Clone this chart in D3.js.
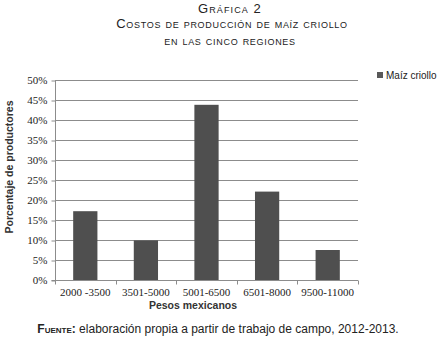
<!DOCTYPE html>
<html><head><meta charset="utf-8">
<script src="https://cdn.jsdelivr.net/npm/d3@7"></script>
<style>body{margin:0;background:#fff}svg{display:block}</style>
</head><body>
<script>
const categories = ["2000 -3500","3501-5000","5001-6500","6501-8000","9500-11000"];
const values = [17.2, 9.9, 43.8, 22.1, 7.5];
const yTicks = [0,5,10,15,20,25,30,35,40,45,50];
const seriesName = "Maíz criollo";

const W = 446, H = 339;
const svg = d3.select("body").append("svg").attr("width", W).attr("height", H);
const m = {left:55, right:358, top:80, bottom:280};

const x = d3.scaleBand().domain(categories).range([m.left, m.right]).paddingInner(0.6).paddingOuter(0.3);
const xb = d3.scaleBand().domain(categories).range([m.left, m.right]);
const y = d3.scaleLinear().domain([0,50]).range([m.bottom, m.top]);

// gridlines
svg.append("g").selectAll("line").data(yTicks.slice(1)).join("line")
  .attr("x1", m.left).attr("x2", m.right)
  .attr("y1", d=>y(d)+0.5).attr("y2", d=>y(d)+0.5)
  .attr("stroke", "#8c8c8c").attr("stroke-width", 1);

// bars
svg.append("g").selectAll("rect").data(values).join("rect")
  .attr("x", (d,i)=>x(categories[i]))
  .attr("width", x.bandwidth())
  .attr("y", d=>y(d)).attr("height", d=>y(0)-y(d))
  .attr("fill", "#4f4f4f");

// y axis
const yAxis = d3.axisLeft(y).tickValues(yTicks).tickFormat(d=>d+"%").tickSize(4).tickPadding(4);
const gy = svg.append("g").attr("transform", `translate(${m.left+0.5},0)`).call(yAxis);
gy.select(".domain").attr("stroke", "#8c8c8c").attr("d", `M-4,${m.bottom+0.5}H0V${m.top}`);
gy.selectAll(".tick line").attr("stroke", "#8c8c8c").attr("transform","translate(0,0.5)");
gy.selectAll(".tick text").attr("font-family","'Liberation Serif', 'Times New Roman', serif").attr("font-size","11px").attr("fill","#222");

// x axis
const gx = svg.append("g").attr("transform", `translate(0,${m.bottom+0.5})`);
gx.append("line").attr("x1", m.left).attr("x2", m.right).attr("stroke","#8c8c8c");
const bounds = categories.map(c=>xb(c)).concat([m.right]);
gx.selectAll("line.tk").data(bounds).join("line").attr("class","tk")
  .attr("x1", d=>Math.round(d)+0.5).attr("x2", d=>Math.round(d)+0.5).attr("y1",0).attr("y2",4)
  .attr("stroke","#8c8c8c");
gx.selectAll("text").data(categories).join("text")
  .attr("x", d=>xb(d)+xb.bandwidth()/2).attr("y", 15)
  .attr("text-anchor","middle")
  .attr("font-family","'Liberation Serif', 'Times New Roman', serif").attr("font-size","11px").attr("fill","#222")
  .text(d=>d);

// axis titles
svg.append("text").attr("transform","translate(13,167) rotate(-90)").attr("text-anchor","middle")
  .attr("font-family","'Liberation Sans', Arial, sans-serif").attr("font-size","10.5px").attr("font-weight","bold").attr("fill","#333")
  .text("Porcentaje de productores");
svg.append("text").attr("x", 193).attr("y", 309).attr("text-anchor","middle")
  .attr("font-family","'Liberation Sans', Arial, sans-serif").attr("font-size","10.5px").attr("font-weight","bold").attr("fill","#333")
  .text("Pesos mexicanos");

// legend
svg.append("rect").attr("x",377).attr("y",72).attr("width",6).attr("height",6).attr("fill","#595959");
svg.append("text").attr("x",386).attr("y",78.5)
  .attr("font-family","'Liberation Sans', Arial, sans-serif").attr("font-size","10px").attr("fill","#222")
  .text(seriesName);

// titles
const tf = "'Liberation Sans', Arial, sans-serif";
svg.append("text").attr("x",230).attr("y",13).attr("text-anchor","middle")
  .attr("font-family",tf).attr("font-size","13px").attr("letter-spacing","1.1px").attr("font-variant","small-caps").attr("fill","#222")
  .text("Gráfica 2");
svg.append("text").attr("x",232).attr("y",28).attr("text-anchor","middle")
  .attr("font-family",tf).attr("font-size","13px").attr("letter-spacing","0.7px").attr("font-variant","small-caps").attr("fill","#222")
  .text("Costos de producción de maíz criollo");
svg.append("text").attr("x",230).attr("y",45).attr("text-anchor","middle")
  .attr("font-family",tf).attr("font-size","13px").attr("letter-spacing","0.7px").attr("font-variant","small-caps").attr("fill","#222")
  .text("en las cinco regiones");

// footer
const ft = svg.append("text").attr("x",218).attr("y",333).attr("text-anchor","middle")
  .attr("font-family",tf).attr("font-size","12px").attr("fill","#222");
ft.append("tspan").attr("font-variant","small-caps").attr("font-weight","bold").text("Fuente:");
ft.append("tspan").text(" elaboración propia a partir de trabajo de campo, 2012-2013.");
</script>
</body></html>
